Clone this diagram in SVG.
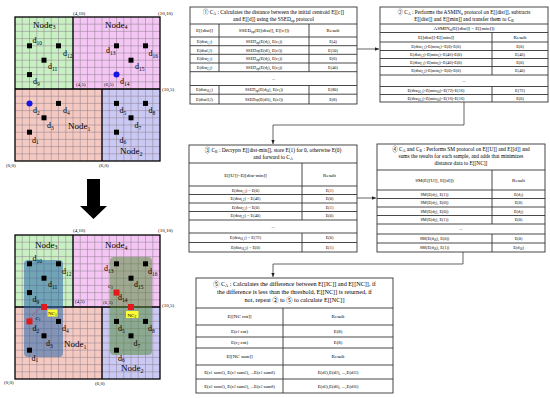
<svg xmlns="http://www.w3.org/2000/svg" xmlns:xlink="http://www.w3.org/1999/xlink" width="550" height="398" viewBox="0 0 550 398">
<style>
text{font-family:"Liberation Serif","Noto Sans CJK JP",serif;fill:#000}
.nd{font-size:9px}
.dl{font-size:8px}
.co{font-size:5px}
.h{font-size:5.4px;text-anchor:middle}
.h5{font-size:6.2px;text-anchor:middle}
.c{font-size:5px;text-anchor:middle}
.d{font-size:4.3px;text-anchor:middle}
.d5{font-size:4.8px;text-anchor:middle}
.tb{fill:#fff;stroke:#333;stroke-width:0.9}
.ln{fill:none;stroke:#333;stroke-width:0.9}
.gl{fill:none;stroke:#8c7f8c;stroke-width:0.5}
.bd{fill:none;stroke:#000;stroke-width:1.3}
.sq{fill:#000}
.cn{fill:none;stroke:#222;stroke-width:0.7}
</style>
<defs>
<marker id="ah" markerWidth="5" markerHeight="5" refX="4" refY="2.5" orient="auto" markerUnits="userSpaceOnUse">
<path d="M0,0.8 L4,2.5 L0,4.2 Z" fill="#222"/>
</marker>
<g id="gridbase">
<rect x="15" y="17" width="58" height="72" fill="#c8f0c2"/>
<rect x="73" y="17" width="87" height="72" fill="#f4c6f4"/>
<rect x="15" y="89" width="87" height="72" fill="#f4c9c1"/>
<rect x="102" y="89" width="58" height="72" fill="#c9c9f4"/>
<path class="gl" d="M22.25 17V161M29.5 17V161M36.75 17V161M44 17V161M51.25 17V161M58.5 17V161M65.75 17V161M73 17V161M80.25 17V161M87.5 17V161M94.75 17V161M102 17V161M109.25 17V161M116.5 17V161M123.75 17V161M131 17V161M138.25 17V161M145.5 17V161M152.75 17V161M15 24.2H160M15 31.4H160M15 38.6H160M15 45.8H160M15 53H160M15 60.2H160M15 67.4H160M15 74.6H160M15 81.8H160M15 89H160M15 96.2H160M15 103.4H160M15 110.6H160M15 117.8H160M15 125H160M15 132.2H160M15 139.4H160M15 146.6H160M15 153.8H160"/>
<path class="bd" d="M15 89H160M73 17V89M102 89V161"/>
<rect class="bd" x="15" y="17" width="145" height="144"/>
</g>
</defs>

<g id="top-map">
<use xlink:href="#gridbase"/>
<g id="top-points">
<rect class="sq" x="27" y="43.3" width="5" height="5"/>
<rect class="sq" x="56" y="43.3" width="5" height="5"/>
<rect class="sq" x="41.5" y="57.7" width="5" height="5"/>
<rect class="sq" x="27" y="72.1" width="5" height="5"/>
<rect class="sq" x="114" y="43.3" width="5" height="5"/>
<rect class="sq" x="143" y="43.3" width="5" height="5"/>
<rect class="sq" x="128.5" y="57.7" width="5" height="5"/>
<circle cx="116.5" cy="74.6" r="3" fill="#1414e6"/>
<circle cx="29.5" cy="103.4" r="3" fill="#1414e6"/>
<rect class="sq" x="56" y="100.9" width="5" height="5"/>
<rect class="sq" x="41.5" y="115.3" width="5" height="5"/>
<rect class="sq" x="27" y="129.7" width="5" height="5"/>
<rect class="sq" x="114" y="100.9" width="5" height="5"/>
<rect class="sq" x="143" y="100.9" width="5" height="5"/>
<rect class="sq" x="128.5" y="115.3" width="5" height="5"/>
<rect class="sq" x="114" y="129.7" width="5" height="5"/>
</g>
<g id="top-labels">
<text class="nd" x="33" y="27.5">Node<tspan dy="1.8" font-size="6">3</tspan></text>
<text class="nd" x="105" y="27.5">Node<tspan dy="1.8" font-size="6">4</tspan></text>
<text class="nd" x="68" y="129">Node<tspan dy="1.8" font-size="6">1</tspan></text>
<text class="nd" x="120" y="154">Node<tspan dy="1.8" font-size="6">2</tspan></text>
<text class="dl" x="32.5" y="43">d<tspan dy="1.5" font-size="5.5">10</tspan></text>
<text class="dl" x="63" y="56">d<tspan dy="1.5" font-size="5.5">12</tspan></text>
<text class="dl" x="48" y="69">d<tspan dy="1.5" font-size="5.5">11</tspan></text>
<text class="dl" x="33" y="84">d<tspan dy="1.5" font-size="5.5">9</tspan></text>
<text class="dl" x="106" y="53">d<tspan dy="1.5" font-size="5.5">13</tspan></text>
<text class="dl" x="148.5" y="56">d<tspan dy="1.5" font-size="5.5">16</tspan></text>
<text class="dl" x="135" y="69">d<tspan dy="1.5" font-size="5.5">15</tspan></text>
<text class="dl" x="120" y="84">d<tspan dy="1.5" font-size="5.5">14</tspan></text>
<text class="dl" x="33" y="113">d<tspan dy="1.5" font-size="5.5">2</tspan></text>
<text class="dl" x="63" y="113">d<tspan dy="1.5" font-size="5.5">4</tspan></text>
<text class="dl" x="47" y="128">d<tspan dy="1.5" font-size="5.5">3</tspan></text>
<text class="dl" x="32" y="142.5">d<tspan dy="1.5" font-size="5.5">1</tspan></text>
<text class="dl" x="119.5" y="113">d<tspan dy="1.5" font-size="5.5">5</tspan></text>
<text class="dl" x="148.5" y="113">d<tspan dy="1.5" font-size="5.5">8</tspan></text>
<text class="dl" x="134.5" y="128">d<tspan dy="1.5" font-size="5.5">7</tspan></text>
<text class="dl" x="119.5" y="142.5">d<tspan dy="1.5" font-size="5.5">6</tspan></text>
<text class="co" x="73" y="15">(4,10)</text>
<text class="co" x="158" y="15">(10,10)</text>
<text class="co" x="76" y="86">(4,5)</text>
<text class="co" x="104" y="86">(6,5)</text>
<text class="co" x="162" y="91">(10,5)</text>
<text class="co" x="6" y="166.5">(0,0)</text>
<text class="co" x="99" y="167">(6,0)</text>
</g>
</g>

<g id="down-arrow">
<path d="M87 179H100V206H107L93.5 219L80 206H87Z" fill="#000"/>
</g>

<g id="bottom-map">
<use xlink:href="#gridbase" y="218"/>
<rect x="24" y="260" width="39" height="97" rx="4" fill="#2a66aa" fill-opacity="0.55"/>
<rect x="110" y="257" width="42" height="98" rx="4" fill="#4e8a30" fill-opacity="0.5"/>
<g id="bottom-points">
<rect class="sq" x="27" y="261.3" width="5" height="5"/>
<rect class="sq" x="56" y="261.3" width="5" height="5"/>
<rect class="sq" x="41.5" y="275.7" width="5" height="5"/>
<rect class="sq" x="27" y="290.1" width="5" height="5"/>
<rect class="sq" x="114" y="261.3" width="5" height="5"/>
<rect class="sq" x="143" y="261.3" width="5" height="5"/>
<rect class="sq" x="128.5" y="275.7" width="5" height="5"/>
<rect class="sq" x="56" y="318.9" width="5" height="5"/>
<rect class="sq" x="41.5" y="333.3" width="5" height="5"/>
<rect class="sq" x="27" y="347.7" width="5" height="5"/>
<rect class="sq" x="114" y="318.9" width="5" height="5"/>
<rect class="sq" x="143" y="318.9" width="5" height="5"/>
<rect class="sq" x="128.5" y="333.3" width="5" height="5"/>
<rect class="sq" x="114" y="347.7" width="5" height="5"/>
</g>
<g id="centroids">
<path d="M29.5 321.4Q34 310 44 307" fill="none" stroke="#e01a1a" stroke-width="0.6" stroke-dasharray="1,1"/>
<path d="M116.5 292.6L131 307" fill="none" stroke="#e01a1a" stroke-width="0.6" stroke-dasharray="1,1"/>
<rect x="26.5" y="318.4" width="6" height="6" fill="#e01a1a"/>
<rect x="41" y="304" width="6" height="6" fill="#e01a1a"/>
<rect x="113.5" y="289.6" width="6" height="6" fill="#e01a1a"/>
<rect x="128" y="304" width="6" height="6" fill="#e01a1a"/>
<rect x="47.5" y="309.5" width="10" height="7" fill="#ffff33"/>
<rect x="126" y="311" width="12.5" height="7" fill="#ffff33"/>
<text class="co" x="48" y="315">NC<tspan dy="1" font-size="3.5">1</tspan></text>
<text class="co" x="127.5" y="316.5">NC<tspan dy="1" font-size="3.5">2</tspan></text>
<text class="co" x="35.5" y="319.5">C<tspan dy="1" font-size="3.5">1</tspan></text>
<text class="co" x="108" y="288">C<tspan dy="1" font-size="3.5">2</tspan></text>
</g>
<g id="bottom-labels">
<text class="nd" x="35" y="247.5">Node<tspan dy="1.8" font-size="6">3</tspan></text>
<text class="nd" x="105" y="248">Node<tspan dy="1.8" font-size="6">4</tspan></text>
<text class="nd" x="64" y="347">Node<tspan dy="1.8" font-size="6">1</tspan></text>
<text class="nd" x="121" y="371">Node<tspan dy="1.8" font-size="6">2</tspan></text>
<text class="dl" x="32.5" y="261">d<tspan dy="1.5" font-size="5.5">10</tspan></text>
<text class="dl" x="62" y="274">d<tspan dy="1.5" font-size="5.5">12</tspan></text>
<text class="dl" x="48" y="287">d<tspan dy="1.5" font-size="5.5">11</tspan></text>
<text class="dl" x="32.5" y="302">d<tspan dy="1.5" font-size="5.5">9</tspan></text>
<text class="dl" x="104" y="271">d<tspan dy="1.5" font-size="5.5">13</tspan></text>
<text class="dl" x="148" y="274">d<tspan dy="1.5" font-size="5.5">16</tspan></text>
<text class="dl" x="134" y="287">d<tspan dy="1.5" font-size="5.5">15</tspan></text>
<text class="dl" x="118" y="300">d<tspan dy="1.5" font-size="5.5">14</tspan></text>
<text class="dl" x="32.5" y="331">d<tspan dy="1.5" font-size="5.5">2</tspan></text>
<text class="dl" x="62" y="331">d<tspan dy="1.5" font-size="5.5">4</tspan></text>
<text class="dl" x="46" y="346">d<tspan dy="1.5" font-size="5.5">3</tspan></text>
<text class="dl" x="31.5" y="360.5">d<tspan dy="1.5" font-size="5.5">1</tspan></text>
<text class="dl" x="118" y="331">d<tspan dy="1.5" font-size="5.5">5</tspan></text>
<text class="dl" x="148" y="331">d<tspan dy="1.5" font-size="5.5">8</tspan></text>
<text class="dl" x="133.5" y="346">d<tspan dy="1.5" font-size="5.5">7</tspan></text>
<text class="dl" x="118" y="360.5">d<tspan dy="1.5" font-size="5.5">6</tspan></text>
<text class="co" x="73" y="232">(4,10)</text>
<text class="co" x="158" y="232">(10,10)</text>
<text class="co" x="75" y="303">(4,5)</text>
<text class="co" x="103" y="304">(6,5)</text>
<text class="co" x="162" y="307">(10,5)</text>
<text class="co" x="4" y="384">(0,0)</text>
<text class="co" x="95" y="384.5">(6,0)</text>
</g>
</g>

<g id="connectors">
<path class="cn" d="M357 49H379" marker-end="url(#ah)"/>
<path class="cn" d="M464 102V125H273V144" marker-end="url(#ah)"/>
<path class="cn" d="M357 198H376" marker-end="url(#ah)"/>
<path class="cn" d="M463 252V264H273V277" marker-end="url(#ah)"/>
</g>

<g id="table1">
<rect class="tb" x="190" y="7" width="167" height="97"/>
<path class="ln" d="M190 24H357M190 37H357M190 45.7H357M190 54.3H357M190 63H357M190 71.7H357M190 85.5H357M190 94.2H357M219 24V71.7M309 24V71.7M219 85.5V104M309 85.5V104"/>
<text class="h" x="273.5" y="14">① C<tspan dy="1" font-size="3.8">A</tspan><tspan dy="-1"> : Calculates the distance between the initial centroid E[[c]]</tspan></text>
<text class="h" x="273.5" y="21">and E[[d]] using the SSED<tspan dy="1" font-size="3.8">op</tspan><tspan dy="-1"> protocol</tspan></text>
<text class="c" x="204.5" y="32">E[[dist]]</text>
<text class="c" x="264" y="32">SSED<tspan dy="1" font-size="3.5">op</tspan><tspan dy="-1">(E[[dist]], E[[c]])</tspan></text>
<text class="c" x="333" y="32">Result</text>
<text class="d" x="204.5" y="43">E(dist<tspan dy="0.8" font-size="3">1,1</tspan><tspan dy="-0.8">)</tspan></text>
<text class="d" x="264" y="43">SSED<tspan dy="0.8" font-size="3">op</tspan><tspan dy="-0.8">(E(d</tspan><tspan dy="0.8" font-size="3">1</tspan><tspan dy="-0.8">), E(c</tspan><tspan dy="0.8" font-size="3">1</tspan><tspan dy="-0.8">))</tspan></text>
<text class="d" x="333" y="43">E(4)</text>
<text class="d" x="204.5" y="51.5">E(dist<tspan dy="0.8" font-size="3">1,2</tspan><tspan dy="-0.8">)</tspan></text>
<text class="d" x="264" y="51.5">SSED<tspan dy="0.8" font-size="3">op</tspan><tspan dy="-0.8">(E(d</tspan><tspan dy="0.8" font-size="3">1</tspan><tspan dy="-0.8">), E(c</tspan><tspan dy="0.8" font-size="3">2</tspan><tspan dy="-0.8">))</tspan></text>
<text class="d" x="333" y="51.5">E(50)</text>
<text class="d" x="204.5" y="60.2">E(dist<tspan dy="0.8" font-size="3">2,1</tspan><tspan dy="-0.8">)</tspan></text>
<text class="d" x="264" y="60.2">SSED<tspan dy="0.8" font-size="3">op</tspan><tspan dy="-0.8">(E(d</tspan><tspan dy="0.8" font-size="3">2</tspan><tspan dy="-0.8">), E(c</tspan><tspan dy="0.8" font-size="3">1</tspan><tspan dy="-0.8">))</tspan></text>
<text class="d" x="333" y="60.2">E(0)</text>
<text class="d" x="204.5" y="68.9">E(dist<tspan dy="0.8" font-size="3">2,2</tspan><tspan dy="-0.8">)</tspan></text>
<text class="d" x="264" y="68.9">SSED<tspan dy="0.8" font-size="3">op</tspan><tspan dy="-0.8">(E(d</tspan><tspan dy="0.8" font-size="3">2</tspan><tspan dy="-0.8">), E(c</tspan><tspan dy="0.8" font-size="3">2</tspan><tspan dy="-0.8">))</tspan></text>
<text class="d" x="333" y="68.9">E(40)</text>
<text class="d" x="273.5" y="80">...</text>
<text class="d" x="204.5" y="91.4">E(dist<tspan dy="0.8" font-size="3">16,1</tspan><tspan dy="-0.8">)</tspan></text>
<text class="d" x="264" y="91.4">SSED<tspan dy="0.8" font-size="3">op</tspan><tspan dy="-0.8">(E(d</tspan><tspan dy="0.8" font-size="3">16</tspan><tspan dy="-0.8">), E(c</tspan><tspan dy="0.8" font-size="3">1</tspan><tspan dy="-0.8">))</tspan></text>
<text class="d" x="333" y="91.4">E(80)</text>
<text class="d" x="204.5" y="100.5">E(dist<tspan dy="0.8" font-size="3">16,2</tspan><tspan dy="-0.8">)</tspan></text>
<text class="d" x="264" y="100.5">SSED<tspan dy="0.8" font-size="3">op</tspan><tspan dy="-0.8">(E(d</tspan><tspan dy="0.8" font-size="3">16</tspan><tspan dy="-0.8">), E(c</tspan><tspan dy="0.8" font-size="3">2</tspan><tspan dy="-0.8">))</tspan></text>
<text class="d" x="333" y="100.5">E(8)</text>
</g>

<g id="table2">
<rect class="tb" x="380" y="7" width="168" height="95"/>
<path class="ln" d="M380 24H548M380 32.5H548M380 42H548M380 50.5H548M380 58.5H548M380 66.5H548M380 75H548M380 86.5H548M380 94.5H548M492 32.5V75M492 86.5V102"/>
<text class="h" x="464" y="14">② C<tspan dy="1" font-size="3.8">A</tspan><tspan dy="-1"> : Performs the ASMIN</tspan><tspan dy="1" font-size="3.8">n</tspan><tspan dy="-1"> protocol on E[[dist]], subtracts</tspan></text>
<text class="h" x="464" y="21">E[[dist]] and E[[min]] and transfer them to C<tspan dy="1" font-size="3.8">B</tspan></text>
<text class="c" x="464" y="30">ASMIN<tspan dy="1" font-size="3.5">n</tspan><tspan dy="-1">(E[[dist]] = E[[min]])</tspan></text>
<text class="c" x="436" y="39">E[[dist]]-E[[min]]</text>
<text class="c" x="520" y="39">Result</text>
<text class="d" x="436" y="47.8">E(dist<tspan dy="0.8" font-size="3">1,1</tspan><tspan dy="-0.8">)-E(min</tspan><tspan dy="0.8" font-size="3">1</tspan><tspan dy="-0.8">)=E(0)-E(0)</tspan></text>
<text class="d" x="520" y="47.8">E(0)</text>
<text class="d" x="436" y="56">E(dist<tspan dy="0.8" font-size="3">1,2</tspan><tspan dy="-0.8">)-E(min</tspan><tspan dy="0.8" font-size="3">1</tspan><tspan dy="-0.8">)=E(46)-E(0)</tspan></text>
<text class="d" x="520" y="56">E(46)</text>
<text class="d" x="436" y="64">E(dist<tspan dy="0.8" font-size="3">2,1</tspan><tspan dy="-0.8">)-E(min</tspan><tspan dy="0.8" font-size="3">2</tspan><tspan dy="-0.8">)=E(40)-E(0)</tspan></text>
<text class="d" x="520" y="64">E(0)</text>
<text class="d" x="436" y="72.3">E(dist<tspan dy="0.8" font-size="3">2,2</tspan><tspan dy="-0.8">)-E(min</tspan><tspan dy="0.8" font-size="3">2</tspan><tspan dy="-0.8">)=E(0)-E(0)</tspan></text>
<text class="d" x="520" y="72.3">E(40)</text>
<text class="d" x="464" y="82">...</text>
<text class="d" x="436" y="92">E(dist<tspan dy="0.8" font-size="3">16,1</tspan><tspan dy="-0.8">)-E(min</tspan><tspan dy="0.8" font-size="3">16</tspan><tspan dy="-0.8">)=E(72)-E(16)</tspan></text>
<text class="d" x="520" y="92">E(72)</text>
<text class="d" x="436" y="99.7">E(dist<tspan dy="0.8" font-size="3">16,2</tspan><tspan dy="-0.8">)-E(min</tspan><tspan dy="0.8" font-size="3">16</tspan><tspan dy="-0.8">)=E(16)-E(16)</tspan></text>
<text class="d" x="520" y="99.7">E(0)</text>
</g>

<g id="table3">
<rect class="tb" x="189" y="145" width="168" height="107"/>
<path class="ln" d="M189 163H357M189 186H357M189 194.5H357M189 203H357M189 211.5H357M189 220H357M189 233H357M189 242.5H357M302 163V220M302 233V252"/>
<text class="h" x="273" y="152">③ C<tspan dy="1" font-size="3.8">B</tspan><tspan dy="-1"> : Decrypts E[[dist-min]], store E(1) for 0, otherwise E(0)</tspan></text>
<text class="h" x="273" y="159">and forward to C<tspan dy="1" font-size="3.8">A</tspan></text>
<text class="c" x="245.5" y="176.5">E[[U]]=E[[dist-min]]</text>
<text class="c" x="329.5" y="176.5">Result</text>
<text class="d" x="245.5" y="191.8">E(dist<tspan dy="0.8" font-size="3">1,1</tspan><tspan dy="-0.8">) = E(0)</tspan></text>
<text class="d" x="329.5" y="191.8">E(1)</text>
<text class="d" x="245.5" y="200.3">E(dist<tspan dy="0.8" font-size="3">1,2</tspan><tspan dy="-0.8">) = E(46)</tspan></text>
<text class="d" x="329.5" y="200.3">E(0)</text>
<text class="d" x="245.5" y="208.8">E(dist<tspan dy="0.8" font-size="3">2,1</tspan><tspan dy="-0.8">) = E(0)</tspan></text>
<text class="d" x="329.5" y="208.8">E(1)</text>
<text class="d" x="245.5" y="217.3">E(dist<tspan dy="0.8" font-size="3">2,2</tspan><tspan dy="-0.8">) = E(40)</tspan></text>
<text class="d" x="329.5" y="217.3">E(0)</text>
<text class="d" x="273" y="228">...</text>
<text class="d" x="245.5" y="239.3">E(dist<tspan dy="0.8" font-size="3">16,1</tspan><tspan dy="-0.8">) = E(72)</tspan></text>
<text class="d" x="329.5" y="239.3">E(0)</text>
<text class="d" x="245.5" y="248.8">E(dist<tspan dy="0.8" font-size="3">16,2</tspan><tspan dy="-0.8">) = E(0)</tspan></text>
<text class="d" x="329.5" y="248.8">E(1)</text>
</g>

<g id="table4">
<rect class="tb" x="377" y="144" width="168" height="108"/>
<path class="ln" d="M377 170H545M377 190H545M377 198.5H545M377 207H545M377 215.5H545M377 224H545M377 234H545M377 243H545M492 170V224M492 234V252"/>
<text class="h" x="461" y="150.5">④ C<tspan dy="1" font-size="3.8">A</tspan><tspan dy="-1"> and C</tspan><tspan dy="1" font-size="3.8">B</tspan><tspan dy="-1"> : Performs SM protocol on E[[U]] and E[[d]] and</tspan></text>
<text class="h" x="461" y="157.5">sums the results for each sample, and adds that minimizes</text>
<text class="h" x="461" y="164.5">distance data to E[[NC]]</text>
<text class="c" x="434.5" y="182">SM(E[[U]], E[[d]])</text>
<text class="c" x="518.5" y="182">Result</text>
<text class="d" x="434.5" y="195.8">SM(E(d<tspan dy="0.8" font-size="3">1</tspan><tspan dy="-0.8">), E(1))</tspan></text>
<text class="d" x="518.5" y="195.8">E(d<tspan dy="0.8" font-size="3">1</tspan><tspan dy="-0.8">)</tspan></text>
<text class="d" x="434.5" y="204.3">SM(E(d<tspan dy="0.8" font-size="3">1</tspan><tspan dy="-0.8">), E(0))</tspan></text>
<text class="d" x="518.5" y="204.3">E(0)</text>
<text class="d" x="434.5" y="212.8">SM(E(d<tspan dy="0.8" font-size="3">2</tspan><tspan dy="-0.8">), E(0))</tspan></text>
<text class="d" x="518.5" y="212.8">E(d<tspan dy="0.8" font-size="3">2</tspan><tspan dy="-0.8">)</tspan></text>
<text class="d" x="434.5" y="221.3">SM(E(d<tspan dy="0.8" font-size="3">2</tspan><tspan dy="-0.8">), E(1))</tspan></text>
<text class="d" x="518.5" y="221.3">E(0)</text>
<text class="d" x="461" y="230">...</text>
<text class="d" x="434.5" y="240">SM(E(d<tspan dy="0.8" font-size="3">16</tspan><tspan dy="-0.8">), E(0))</tspan></text>
<text class="d" x="518.5" y="240">E(0)</text>
<text class="d" x="434.5" y="249">SM(E(d<tspan dy="0.8" font-size="3">16</tspan><tspan dy="-0.8">), E(1))</tspan></text>
<text class="d" x="518.5" y="249">E(d<tspan dy="0.8" font-size="3">16</tspan><tspan dy="-0.8">)</tspan></text>
</g>

<g id="table5">
<rect class="tb" x="196" y="278" width="197" height="115"/>
<path class="ln" d="M196 308H393M196 325H393M196 337H393M196 348H393M196 365H393M196 379H393M283 308V393"/>
<text class="h5" x="294.5" y="286">⑤ C<tspan dy="1" font-size="4.3">A</tspan><tspan dy="-1"> : Calculates the difference between E[[IC]] and E[[NC]], if</tspan></text>
<text class="h5" x="294.5" y="294">the difference is less than the threshold, E[[NC]] is returned, if</text>
<text class="h5" x="294.5" y="302">not, repeat ② to ⑤ to calculate E[[NC]]</text>
<text class="c" x="239.5" y="318">E[[NC cnt]]</text>
<text class="c" x="338" y="318">Result</text>
<text class="d5" x="239.5" y="332.5">E(c<tspan dy="0.8" font-size="3.3">1</tspan><tspan dy="-0.8"> cnt)</tspan></text>
<text class="d5" x="338" y="332.5">E(8)</text>
<text class="d5" x="239.5" y="344">E(c<tspan dy="0.8" font-size="3.3">2</tspan><tspan dy="-0.8"> cnt)</tspan></text>
<text class="d5" x="338" y="344">E(8)</text>
<text class="c" x="239.5" y="358">E[[NC sum]]</text>
<text class="c" x="338" y="358">Result</text>
<text class="d5" x="239.5" y="373.5">E(c<tspan dy="0.8" font-size="3.3">1</tspan><tspan dy="-0.8"> sum</tspan><tspan dy="0.8" font-size="3.3">1</tspan><tspan dy="-0.8">), E(c</tspan><tspan dy="0.8" font-size="3.3">1</tspan><tspan dy="-0.8"> sum</tspan><tspan dy="0.8" font-size="3.3">2</tspan><tspan dy="-0.8">), ...E(c</tspan><tspan dy="0.8" font-size="3.3">1</tspan><tspan dy="-0.8"> sum</tspan><tspan dy="0.8" font-size="3.3">8</tspan><tspan dy="-0.8">)</tspan></text>
<text class="d5" x="338" y="373.5">E(d<tspan dy="0.8" font-size="3.3">1</tspan><tspan dy="-0.8">),E(d</tspan><tspan dy="0.8" font-size="3.3">2</tspan><tspan dy="-0.8">), ...,E(d</tspan><tspan dy="0.8" font-size="3.3">12</tspan><tspan dy="-0.8">)</tspan></text>
<text class="d5" x="239.5" y="387.5">E(c<tspan dy="0.8" font-size="3.3">2</tspan><tspan dy="-0.8"> sum</tspan><tspan dy="0.8" font-size="3.3">1</tspan><tspan dy="-0.8">), E(c</tspan><tspan dy="0.8" font-size="3.3">2</tspan><tspan dy="-0.8"> sum</tspan><tspan dy="0.8" font-size="3.3">2</tspan><tspan dy="-0.8">), ...E(c</tspan><tspan dy="0.8" font-size="3.3">2</tspan><tspan dy="-0.8"> sum</tspan><tspan dy="0.8" font-size="3.3">8</tspan><tspan dy="-0.8">)</tspan></text>
<text class="d5" x="338" y="387.5">E(d<tspan dy="0.8" font-size="3.3">5</tspan><tspan dy="-0.8">),E(d</tspan><tspan dy="0.8" font-size="3.3">6</tspan><tspan dy="-0.8">), ...,E(d</tspan><tspan dy="0.8" font-size="3.3">16</tspan><tspan dy="-0.8">)</tspan></text>
</g>
</svg>
